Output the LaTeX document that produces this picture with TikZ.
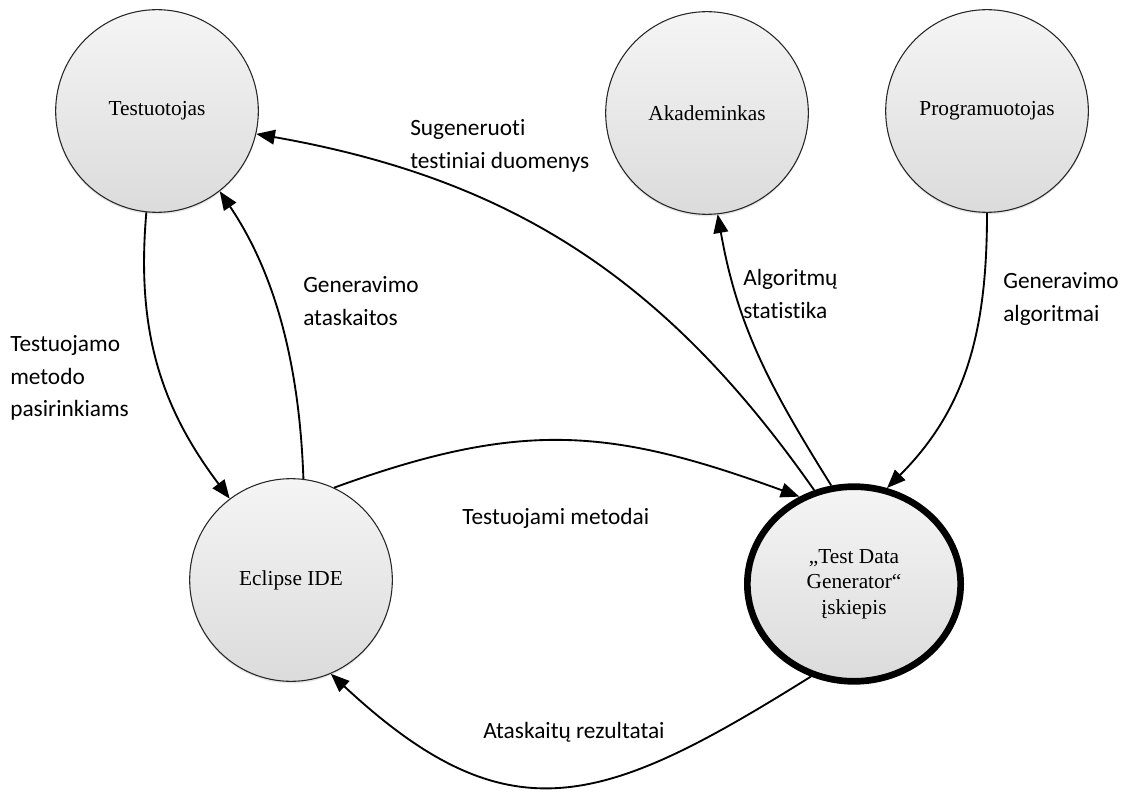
\documentclass[tikz,border=0pt]{standalone}
\usepackage{fontspec}
\setmainfont{Liberation Serif}
\newfontfamily\lblfont[Ligatures=NoCommon]{Carlito}
\usepackage{tikz}
\usetikzlibrary{arrows.meta, shapes.geometric, shadows}

\begin{document}
\begin{tikzpicture}[x=0.75pt, y=0.75pt,
  actor/.style={draw=black!85, line width=0.8pt, circle, minimum size=152pt, inner sep=0pt, top color=gray!8, bottom color=gray!28, align=center, font=\fontsize{16}{19}\selectfont, drop shadow={shadow xshift=0pt, shadow yshift=-1.5pt, opacity=0.2}},
  plugin/.style={actor, ellipse, draw=black, line width=5pt, minimum width=160pt, minimum height=146pt},
  lbl/.style={anchor=west, align=left, inner sep=0pt, font=\lblfont\fontsize{17.5}{24.5}\selectfont},
  flow/.style={line width=1.4pt, -{Triangle[length=14pt, width=11pt]}}
]
  \useasboundingbox (0,0) rectangle (1126,794);

  \node[actor] (test) at (157,683) {Testuotojas};
  \node[actor] (akad) at (707,681) {Akademinkas};
  \node[actor] (prog) at (987,683) {Programuotojas};
  \node[actor] (ecl) at (291,214) {Eclipse IDE};
  \node[plugin] (gen) at (854,210) {„Test Data\\Generator“\\įskiepis};

  \draw[flow] (test.264) to[out=265, in=127] (ecl.127);
  \draw[flow] (ecl.83) to[out=92, in=-56, looseness=0.9] (test.-52);
  \draw[flow] (gen.113) to[out=125, in=-10] (test.-13);
  \draw[flow] (gen.103) to[out=122, in=-80] (akad.-84);
  \draw[flow] (prog.-90) to[out=-90, in=45] (gen.71);
  \draw[flow] (ecl.65) to[out=20, in=160, looseness=1.1] (gen.122);
  \draw[flow] (gen.-115) to[out=212, in=-43, looseness=1.3] (ecl.-67);

  \node[lbl] (lPick) at (10,416) {Testuojamo\\metodo\\pasirinkiams};
  \node[lbl] (lRep) at (303,493) {Generavimo\\ataskaitos};
  \node[lbl] (lData) at (410,648) {Sugeneruoti\\testiniai duomenys};
  \node[lbl] (lStat) at (743,500) {Algoritmų\\statistika};
  \node[lbl] (lAlg) at (1003,495) {Generavimo\\algoritmai};
  \node[lbl] (lMeth) at (462,276) {Testuojami metodai};
  \node[lbl] (lRes) at (483,62) {Ataskaitų rezultatai};
\end{tikzpicture}
\end{document}
